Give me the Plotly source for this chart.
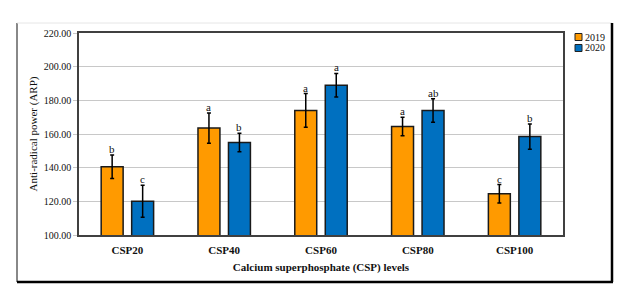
import plotly.graph_objects as go

categories = ["CSP20", "CSP40", "CSP60", "CSP80", "CSP100"]
vals_2019 = [140.5, 163.5, 174.0, 164.5, 124.5]
err_2019 = [7.0, 9.0, 10.0, 5.5, 5.5]
vals_2020 = [120.0, 155.0, 189.0, 174.0, 158.5]
err_2020 = [9.5, 5.5, 7.0, 7.0, 7.5]
letters_2019 = ["b", "a", "a", "a", "c"]
letters_2020 = ["c", "b", "a", "ab", "b"]
y_ticks = [100, 120, 140, 160, 180, 200, 220]
series_names = ["2019", "2020"]

FONT = "Liberation Serif"
TXT = "#111111"
ORANGE = "#FF9A00"
BLUE = "#0070C0"
BARGAP = 0.37

fig = go.Figure()
fig.add_trace(go.Bar(
    name=series_names[0], x=categories, y=vals_2019,
    marker=dict(color=ORANGE, line=dict(color="#1a1a1a", width=1.5)),
    error_y=dict(type="data", array=err_2019, color="#000000", thickness=1.5, width=2),
))
fig.add_trace(go.Bar(
    name=series_names[1], x=categories, y=vals_2020,
    marker=dict(color=BLUE, line=dict(color="#1a1a1a", width=1.5)),
    error_y=dict(type="data", array=err_2020, color="#000000", thickness=1.5, width=2),
))

half = (1 - BARGAP) / 4
for i in range(len(categories)):
    fig.add_annotation(x=i - half, y=vals_2019[i] + err_2019[i], text=letters_2019[i],
                       showarrow=False, yanchor="bottom", yshift=-2,
                       font=dict(family=FONT, size=11, color=TXT))
    fig.add_annotation(x=i + half, y=vals_2020[i] + err_2020[i], text=letters_2020[i],
                       showarrow=False, yanchor="bottom", yshift=-2,
                       font=dict(family=FONT, size=11, color=TXT))

# geometry helpers (pixel -> paper)
L, R, T, B = 79, 563, 33, 235
W, H = R - L, B - T
def px(x): return (x - L) / W
def py(y): return (B - y) / H

# outer frame
fig.add_shape(type="line", xref="paper", yref="paper", x0=px(17), x1=px(17), y0=py(23), y1=py(282),
              line=dict(color="#888888", width=2))
fig.add_shape(type="line", xref="paper", yref="paper", x0=px(17), x1=px(612), y0=py(23), y1=py(23),
              line=dict(color="#e6e6e6", width=1))
fig.add_shape(type="line", xref="paper", yref="paper", x0=px(612), x1=px(612), y0=py(23), y1=py(282),
              line=dict(color="#000000", width=2.5))
fig.add_shape(type="line", xref="paper", yref="paper", x0=px(17), x1=px(613), y0=py(282), y1=py(282),
              line=dict(color="#000000", width=2.5))

# manual legend
for k, (nm, col) in enumerate(zip(series_names, [ORANGE, BLUE])):
    yc = 37 + k * 11
    fig.add_shape(type="rect", xref="paper", yref="paper",
                  x0=px(575), x1=px(582), y0=py(yc + 3.5), y1=py(yc - 3.5),
                  fillcolor=col, line=dict(color="#222222", width=1))
    fig.add_annotation(xref="paper", yref="paper", x=px(583), y=py(yc), text=nm,
                       showarrow=False, xanchor="left", yanchor="middle",
                       font=dict(family=FONT, size=10, color=TXT))

fig.update_layout(
    width=635, height=304,
    margin=dict(l=L, r=635 - R, t=T, b=304 - B),
    paper_bgcolor="white", plot_bgcolor="white",
    barmode="group", bargap=BARGAP, bargroupgap=0.28,
    font=dict(family=FONT, color=TXT),
    showlegend=False,
    xaxis=dict(showline=True, linecolor="#404040", linewidth=1.5, mirror=True,
               tickvals=categories, ticktext=[f"<b>{c}</b>" for c in categories],
               tickfont=dict(family=FONT, size=11, color=TXT),
               ticklabelstandoff=4,
               title=dict(text="<b>Calcium superphosphate (CSP) levels</b>",
                          font=dict(family=FONT, size=11, color=TXT), standoff=8),
               ticks="", automargin=False),
    yaxis=dict(range=[100, 220], tickvals=y_ticks,
               ticktext=[f"{v:.2f}" for v in y_ticks],
               showline=True, linecolor="#404040", linewidth=1.5, mirror=True,
               showgrid=True, gridcolor="#c8c8c8", gridwidth=1,
               ticks="outside", ticklen=4, tickcolor="#c8c8c8", tickwidth=1,
               tickfont=dict(family=FONT, size=10, color=TXT),
               title=dict(text="Anti-radical power (ARP)",
                          font=dict(family=FONT, size=11, color=TXT), standoff=4),
               automargin=False),
)

fig.write_html("out.html", config={"displayModeBar": False})
with open("out.html", encoding="utf-8") as f:
    html = f.read()
html = html.replace("<body>", '<body style="margin:0;padding:0">', 1)
with open("out.html", "w", encoding="utf-8") as f:
    f.write(html)
